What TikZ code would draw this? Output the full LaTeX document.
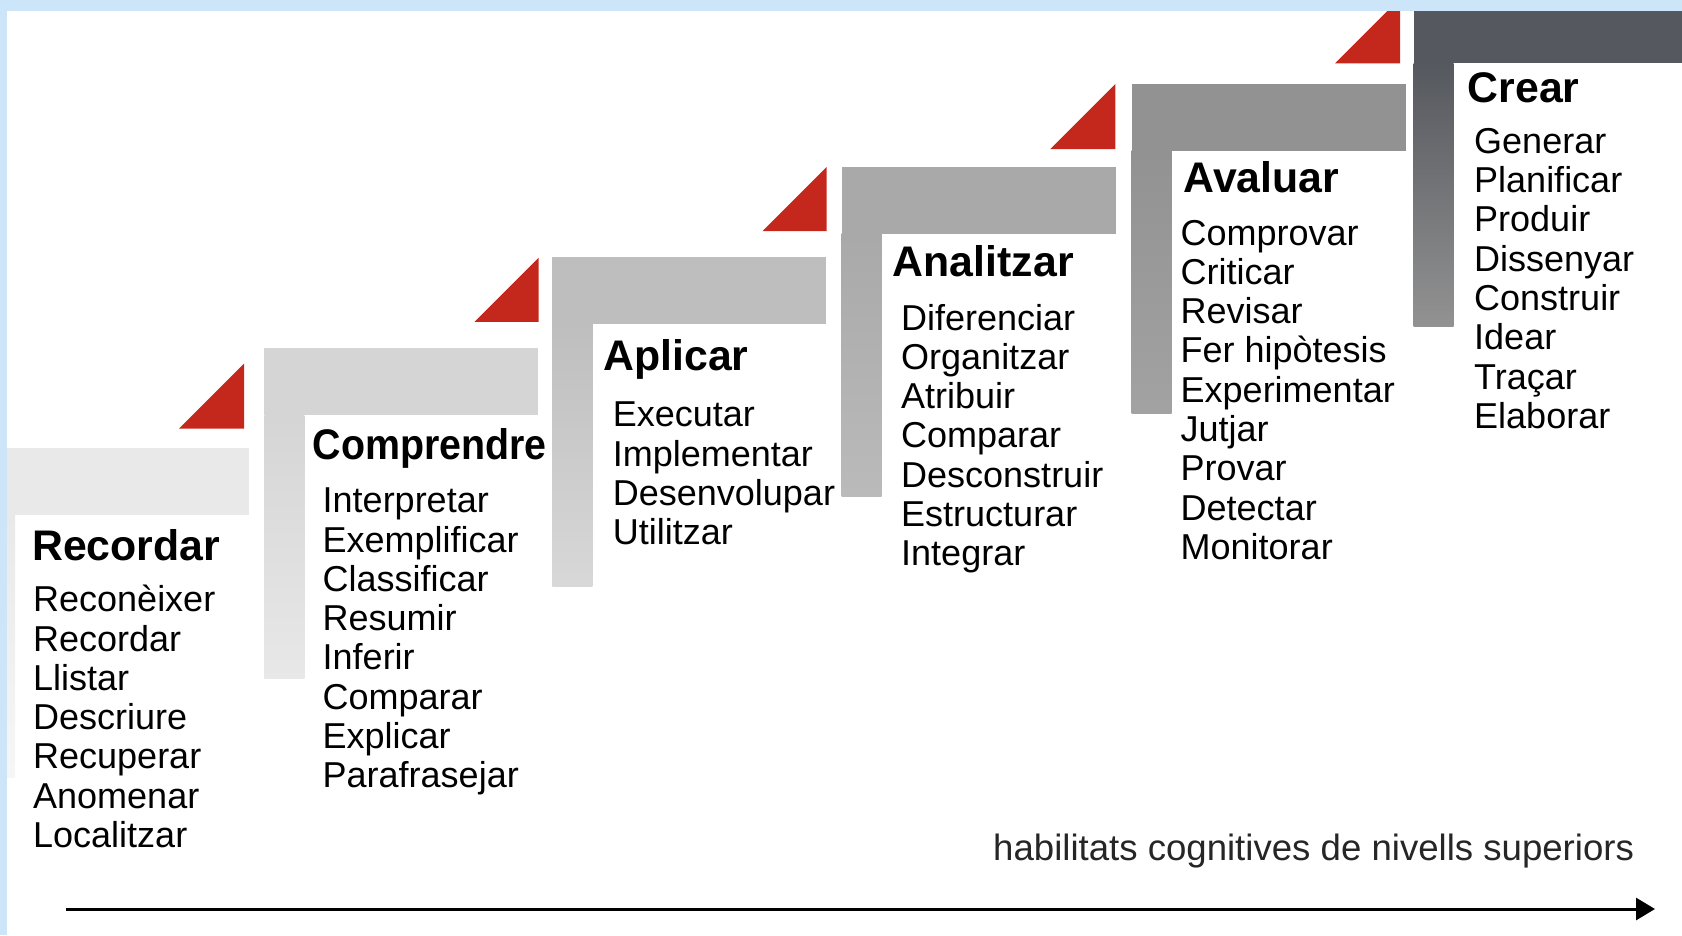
\documentclass[tikz,border=0pt]{standalone}
\usepackage{fontspec}
\setmainfont{Liberation Sans}
\usetikzlibrary{positioning,arrows.meta}

\definecolor{frameblue}{HTML}{CDE5F8}
\definecolor{stepred}{HTML}{C4281C}
\definecolor{stepA}{HTML}{E9E9E9}
\definecolor{stepB}{HTML}{D5D5D5}
\definecolor{stepC}{HTML}{BEBEBE}
\definecolor{stepD}{HTML}{A9A9A9}
\definecolor{stepE}{HTML}{929292}
\definecolor{stepF}{HTML}{55585E}

\tikzset{
  heading/.style={anchor=base west, inner sep=0pt, font=\fontsize{42.8}{46}\selectfont\bfseries},
  verb/.style={anchor=base west, inner sep=0pt, font=\fontsize{36}{40}\selectfont},
}

\begin{document}
\begin{tikzpicture}[x=1pt,y=-1pt]
\useasboundingbox (0,0) rectangle (1682,935);

% steps: left, top, colour, colour at the foot
\foreach \l/\t/\col/\low in {-25/447.5/stepA/stepA!40, 264.3/348.3/stepB/stepB!55, 552.3/256.7/stepC/stepC!60, 841.7/166.7/stepD/stepD!80, 1131.6/83.7/stepE/stepE!85, 1413.5/-4/stepF/stepE}
{
  \shade[top color=\col, bottom color=\low] (\l,\t+67) rectangle (\l+40,\t+330);
  \fill[\col] (\l,\t) rectangle (\l+274,\t+67);
}

% red corners
\foreach \r/\b/\s in {244/428.7/65, 538.5/321.8/64, 826.7/231/64, 1115.3/149/65, 1400/63.3/65}
  \fill[stepred] (\r-\s,\b) -- (\r,\b) -- (\r,\b-\s) -- cycle;

% frame
\fill[frameblue] (0,0) rectangle (1682,11);
\fill[frameblue] (0,0) rectangle (7,935);

% Recordar
\node[heading] (recordar) at (32,560.5) {Recordar};
\foreach \v [count=\i] in {Reconèixer, Recordar, Llistar, Descriure, Recuperar, Anomenar, Localitzar}
  \node[verb] (recordar-\i) at (33,{611.7+39.3*(\i-1)}) {\v};

% Comprendre
\node[heading] (comprendre) at (312.5,459) {\scalebox{0.92}[1]{Comprendre}};
\foreach \v [count=\i] in {Interpretar, Exemplificar, Classificar, Resumir, Inferir, Comparar, Explicar, Parafrasejar}
  \node[verb] (comprendre-\i) at (322.5,{512.7+39.3*(\i-1)}) {\v};

% Aplicar
\node[heading] (aplicar) at (603.3,370) {Aplicar};
\foreach \v [count=\i] in {Executar, Implementar, Desenvolupar, Utilitzar}
  \node[verb] (aplicar-\i) at (612.7,{426.7+39.3*(\i-1)}) {\v};

% Analitzar
\node[heading] (analitzar) at (892.7,276.7) {Analitzar};
\foreach \v [count=\i] in {Diferenciar, Organitzar, Atribuir, Comparar, Desconstruir, Estructurar, Integrar}
  \node[verb] (analitzar-\i) at (901,{330+39.3*(\i-1)}) {\v};

% Avaluar
\node[heading] (avaluar) at (1183.5,192.7) {Avaluar};
\foreach \v [count=\i] in {Comprovar, Criticar, Revisar, Fer hipòtesis, Experimentar, Jutjar, Provar, Detectar, Monitorar}
  \node[verb] (avaluar-\i) at (1180.5,{245+39.3*(\i-1)}) {\v};

% Crear
\node[heading] (crear) at (1467.5,102) {Crear};
\foreach \v [count=\i] in {Generar, Planificar, Produir, Dissenyar, Construir, Idear, Traçar, Elaborar}
  \node[verb] (crear-\i) at (1474,{153.3+39.3*(\i-1)}) {\v};

% axis
\node[verb, text=black!85, font=\fontsize{36.6}{40}\selectfont] (higher) at (993,860) {habilitats cognitives de nivells superiors};
\coordinate (axisstart) at (66,909);
\coordinate (axisend) at (1655,909);
\draw[line width=3pt, -{Triangle[length=19pt,width=22pt]}] (axisstart) -- (axisend);
\end{tikzpicture}
\end{document}
